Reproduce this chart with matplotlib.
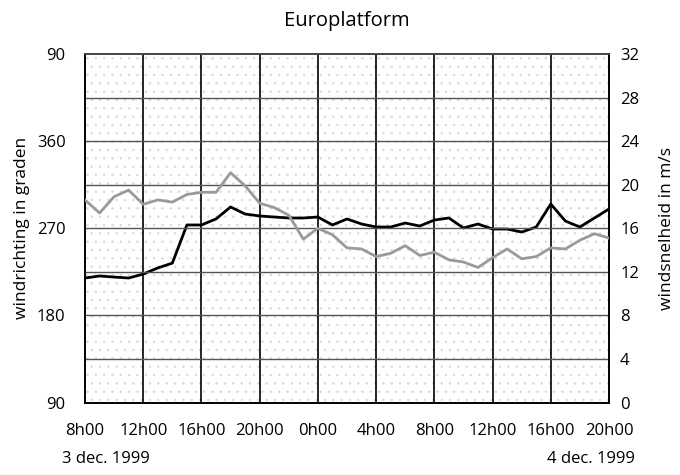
import numpy as np
import matplotlib.pyplot as plt
from matplotlib.patches import Rectangle

plt.rcParams['font.family'] = ['Open Sans', 'DejaVu Sans']
plt.rcParams['hatch.linewidth'] = 0.5

# hourly readings, 8h00 on 3 dec until 20h00 on 4 dec
hours = np.arange(37)
tick_labels = ['8h00', '12h00', '16h00', '20h00', '0h00', '4h00',
               '8h00', '12h00', '16h00', '20h00']

# wind direction (degrees) - black line, left axis
richting = [218.6, 220.7, 219.6, 218.6, 222.7, 229.0, 234.0, 273.4, 273.4, 279.6,
            292.0, 284.7, 282.7, 281.6, 280.6, 280.6, 281.6, 273.4, 279.6, 274.4,
            271.3, 271.3, 275.4, 272.3, 278.5, 280.6, 270.3, 274.4, 269.2, 269.2,
            266.1, 271.3, 295.0, 277.5, 271.3, 280.6, 289.9]

# wind speed (m/s) - grey line, right axis
snelheid = [18.6, 17.4, 18.9, 19.5, 18.2, 18.6, 18.4, 19.1, 19.3, 19.3,
            21.1, 19.9, 18.3, 17.9, 17.2, 15.0, 16.0, 15.4, 14.2, 14.1,
            13.4, 13.7, 14.4, 13.5, 13.8, 13.1, 12.9, 12.4, 13.3, 14.1,
            13.2, 13.4, 14.2, 14.1, 14.9, 15.5, 15.1]

fig = plt.figure(figsize=(6.8, 4.75), dpi=100)
ax = fig.add_axes([0.125, 0.1526, 0.7706, 0.7337])
ax2 = ax.twinx()

# stippled background
bg = Rectangle((0, 0), 1, 1, transform=ax.transAxes, facecolor='white',
               edgecolor='#d8d8d8', hatch='..', linewidth=0, zorder=0)
ax.add_patch(bg)

ax.set_xlim(0, 36)
ax.set_ylim(90, 450)
ax2.set_ylim(0, 32)

ax.set_xticks(np.arange(0, 37, 4))
ax.set_xticklabels(tick_labels)
ax.set_yticks([90, 180, 270, 360, 450])
ax.set_yticklabels(['90', '180', '270', '360', '90'])
ax2.set_yticks(np.arange(0, 33, 4))

for y in np.arange(4, 32, 4):
    ax2.axhline(y, color='#555555', lw=1.0, zorder=1)
for x in np.arange(4, 36, 4):
    ax.axvline(x, color='black', lw=1.2, zorder=1)

ax.plot(hours, richting, color='black', lw=2.0, zorder=3)
ax2.plot(hours, snelheid, color='#9a9a9a', lw=2.0, zorder=3)

for a in (ax, ax2):
    for s in a.spines.values():
        s.set_linewidth(1.2)
    a.spines['top'].set_color('#444444')
    a.tick_params(length=0, labelsize=12)
ax.tick_params(axis='y', pad=14)
ax.tick_params(axis='x', pad=15)
ax2.tick_params(axis='y', pad=8)

ax.set_ylabel('windrichting in graden', fontsize=12.5, labelpad=5)
ax2.set_ylabel('windsnelheid in m/s', fontsize=12.5, labelpad=14)
ax.set_title('Europlatform', fontsize=14.5, pad=20)

fig.text(0.091, 0.034, '3 dec. 1999', fontsize=12, ha='left', va='center')
fig.text(0.934, 0.034, '4 dec. 1999', fontsize=12, ha='right', va='center')

fig.savefig('out.png', dpi=100)
